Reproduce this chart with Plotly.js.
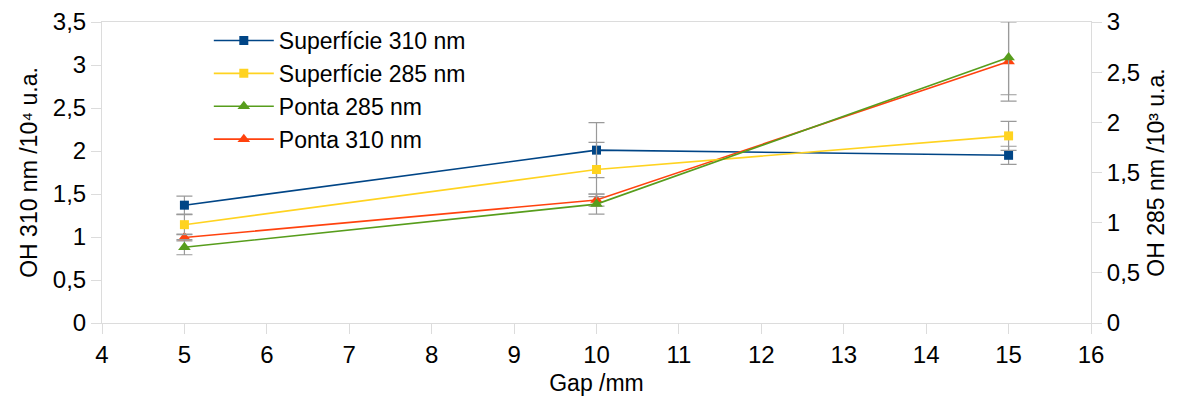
<!DOCTYPE html>
<html>
<head>
<meta charset="utf-8">
<script src="https://cdn.plot.ly/plotly-3.0.1.min.js"></script>
<style>html,body{margin:0;padding:0;background:#fff;}#chart{width:1191px;height:405px;}</style>
</head>
<body>
<div id="chart"></div>
<script>
const gap = [5, 10, 15];

const names = ["Superfície 310 nm", "Superfície 285 nm", "Ponta 285 nm", "Ponta 310 nm"];

const sup310 = [1.37, 2.01, 1.95];
const sup310Err = [0.105, 0.32, 0.105];

const sup285 = [0.98, 1.53, 1.865];
const sup285Err = [0.10, 0.27, 0.145];

const ponta285 = [0.755, 1.185, 2.645];
const ponta285Err = [0.075, 0.10, 0.37];

const ponta310 = [0.995, 1.43, 3.04];
const ponta310Err = [0.04, 0.07, 0.46];

const colors = ["#004586", "#ffd320", "#579d1c", "#ff420e"];

function tr(name, y, err, color, symbol, axis, size) {
  return {
    x: gap, y: y, name: name, type: "scatter", mode: "lines+markers",
    yaxis: axis,
    line: {color: color, width: 1.6},
    marker: {color: color, symbol: symbol, size: size},
    error_y: {type: "data", array: err, visible: true, color: "#9a9a9a", thickness: 1.2, width: 8}
  };
}

const data = [
  tr(names[0], sup310, sup310Err, colors[0], "square", "y", 9),
  tr(names[1], sup285, sup285Err, colors[1], "square", "y2", 9),
  tr(names[2], ponta285, ponta285Err, colors[2], "triangle-up", "y2", 11),
  tr(names[3], ponta310, ponta310Err, colors[3], "triangle-up", "y", 11)
];

const fam = "Liberation Sans, Arial, sans-serif";
const tickFont = {family: fam, size: 24, color: "#000"};
const titleFont = {family: fam, size: 23, color: "#000"};

const layout = {
  width: 1191, height: 405,
  margin: {l: 102, r: 100, t: 22, b: 82},
  paper_bgcolor: "#fff", plot_bgcolor: "#fff",
  showlegend: true,
  legend: {
    x: 0.108, y: 1.01, xanchor: "left", yanchor: "top",
    font: {family: fam, size: 23, color: "#000"},
    bgcolor: "rgba(0,0,0,0)", itemwidth: 60, tracegroupgap: 0,
    traceorder: "normal"
  },
  xaxis: {
    range: [4, 16], dtick: 1, tick0: 4,
    showgrid: false, zeroline: false,
    showline: true, linecolor: "#dcdcdc", linewidth: 1, mirror: true,
    ticks: "outside", ticklen: 10, tickcolor: "#dcdcdc",
    tickfont: tickFont,
    title: {text: "Gap /mm", font: titleFont, standoff: 8}
  },
  yaxis: {
    range: [0, 3.5], dtick: 0.5,
    showgrid: false, zeroline: false,
    showline: true, linecolor: "#dcdcdc", linewidth: 1,
    ticks: "outside", ticklen: 10, tickcolor: "#dcdcdc",
    tickfont: tickFont,
    title: {text: "OH 310 nm /10⁴ u.a.", font: titleFont, standoff: 8}
  },
  yaxis2: {
    range: [0, 3], dtick: 0.5, overlaying: "y", side: "right",
    showgrid: false, zeroline: false,
    showline: true, linecolor: "#dcdcdc", linewidth: 1,
    ticks: "outside", ticklen: 10, tickcolor: "#dcdcdc",
    tickfont: tickFont,
    title: {text: "OH 285 nm /10³ u.a.", font: titleFont, standoff: 8}
  },
  separators: ", "
};

Plotly.newPlot("chart", data, layout, {displayModeBar: false, staticPlot: true});
</script>
</body>
</html>
